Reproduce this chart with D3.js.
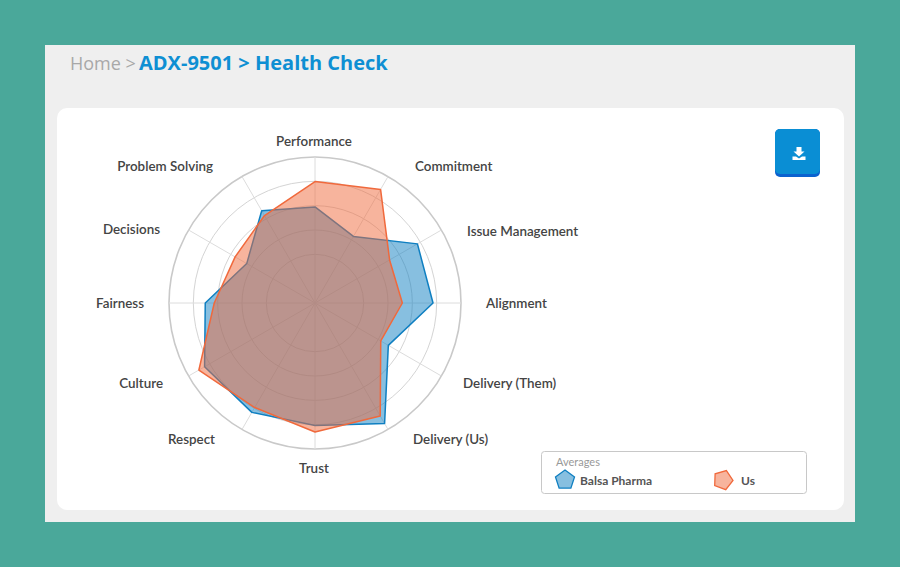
<!DOCTYPE html>
<html>
<head>
<meta charset="utf-8">
<script src="https://cdn.jsdelivr.net/npm/d3@7"></script>
<style>
  html, body { margin: 0; padding: 0; background: #4aa89a; }
  svg { display: block; }
  text { font-family: Lato, "Open Sans", sans-serif; }
</style>
</head>
<body>
<svg id="chart" width="900" height="567"></svg>
<script>
const categories = ['Performance', 'Commitment', 'Issue Management', 'Alignment', 'Delivery (Them)', 'Delivery (Us)',
    'Trust', 'Respect', 'Culture', 'Fairness', 'Decisions', 'Problem Solving'];
const balsaValues = [3.95, 3.16, 4.86, 4.85, 3.48, 5.72, 5.03, 5.19, 5.24, 4.51, 3.24, 4.38];
const usValues = [4.99, 5.39, 3.54, 3.59, 3.12, 5.36, 5.30, 4.96, 5.51, 4.14, 3.79, 4.15];
const ringValues = [2, 3, 4, 5, 6];
const seriesNames = ['Balsa Pharma', 'Us'];

const svg = d3.select('#chart');
const blue = '#0f7fc1';
const orange = '#f0693c';

// page panels
svg.append('rect').attr('x', 45).attr('y', 45).attr('width', 810).attr('height', 477).attr('fill', '#efefef');
svg.append('rect').attr('x', 57).attr('y', 108).attr('width', 787).attr('height', 402).attr('rx', 10).attr('fill', '#fff');

// breadcrumb
svg.append('text').attr('x', 70).attr('y', 70).attr('font-size', 18)
    .style('font-family', '"Open Sans", sans-serif')
    .attr('fill', '#a8a8a8').text('Home >');
svg.append('text').attr('x', 139).attr('y', 70).attr('font-size', 20).attr('font-weight', 700)
    .style('font-family', '"Open Sans", sans-serif')
    .attr('fill', '#0e8fd3').text('ADX-9501 > Health Check');

// radar
let cx = 315, cy = 303;
let r = d3.scaleLinear().domain([0, 6]).range([0, 146]);
let angle = d3.scalePoint().domain(d3.range(categories.length)).range([0, 2 * Math.PI * 11 / 12]);
let radar = svg.append('g').attr('transform', `translate(${cx},${cy})`);

radar.selectAll('circle.ring')
    .data(ringValues)
    .enter()
    .append('circle')
    .attr('class', 'ring')
    .attr('r', d => r(d))
    .attr('fill', 'none')
    .attr('stroke', d => d === 6 ? '#c9c9c9' : '#d4d4d4')
    .attr('stroke-width', d => d === 6 ? 1.6 : 1);

radar.selectAll('line.spoke')
    .data(categories)
    .enter()
    .append('line')
    .attr('class', 'spoke')
    .attr('x2', (d, i) => r(6) * Math.sin(angle(i)))
    .attr('y2', (d, i) => -r(6) * Math.cos(angle(i)))
    .attr('stroke', '#dcdcdc')
    .attr('stroke-width', 1);

let line = d3.lineRadial()
    .angle((d, i) => angle(i))
    .radius(d => r(d))
    .curve(d3.curveLinearClosed);

function drawSeries(values, color) {
    radar.append('path')
        .attr('d', line(values))
        .attr('fill', color)
        .attr('fill-opacity', 0.5)
        .attr('stroke', color)
        .attr('stroke-width', 1.5)
        .attr('stroke-linejoin', 'round');
}
drawSeries(balsaValues, blue);
drawSeries(usValues, orange);

// category labels sit off the spokes, pushed sideways like the original
let labelY = [-162, -137, -72, 0, 80, 136, 165, 136, 80, 0, -74, -137];
let labelNudge = [0, 0, 0, 0, -4, -2, 0, 0, 0, 0, -3, -2];
svg.selectAll('text.cat')
    .data(categories)
    .enter()
    .append('text')
    .attr('class', 'cat')
    .attr('x', (d, i) => {
        let s = Math.sin(angle(i));
        if (Math.abs(s) < 0.01) return cx - 1;
        return cx + 142 * s + (s > 0 ? 29 : -29) + labelNudge[i];
    })
    .attr('y', (d, i) => cy + labelY[i])
    .attr('dy', '0.35em')
    .attr('text-anchor', (d, i) => {
        let s = Math.sin(angle(i));
        return Math.abs(s) < 0.01 ? 'middle' : (s > 0 ? 'start' : 'end');
    })
    .attr('font-size', 13.4)
    .attr('font-weight', 600)
    .attr('fill', '#444')
    .text(d => d);

// download button
svg.append('rect').attr('x', 775).attr('y', 129).attr('width', 45).attr('height', 48).attr('rx', 5).attr('fill', '#0b62cf');
svg.append('rect').attr('x', 775).attr('y', 129).attr('width', 45).attr('height', 45).attr('rx', 5).attr('fill', '#0a8ed4');
svg.append('path')
    .attr('d', 'M796.5 147h5v4.5h3l-5.500 5-5.500-5h3z M792.500 156.500h3.500l3 2 3-2h3.500v3.500h-13z')
    .attr('fill', '#fff');

// legend
svg.append('rect').attr('x', 541.5).attr('y', 451.5).attr('width', 265).attr('height', 42).attr('rx', 3)
    .attr('fill', '#fff').attr('stroke', '#c8c8c8');
svg.append('text').attr('x', 556).attr('y', 466).attr('font-size', 11).attr('fill', '#999').text('Averages');

let pentagon = d3.lineRadial()
    .angle((d, i) => i * 2 * Math.PI / 5)
    .radius(10)
    .curve(d3.curveLinearClosed);

let legendX = [565, 723];
let legendColors = [blue, orange];
let legendRot = [0, 20];
seriesNames.forEach(function(name, i) {
    svg.append('path')
        .attr('d', pentagon(d3.range(5)))
        .attr('transform', `translate(${legendX[i]},${480}) rotate(${legendRot[i]})`)
        .attr('fill', legendColors[i])
        .attr('fill-opacity', 0.5)
        .attr('stroke', legendColors[i])
        .attr('stroke-width', 1.3);
    svg.append('text')
        .attr('x', legendX[i] + (i === 0 ? 15 : 18))
        .attr('y', 485)
        .attr('font-size', 12)
        .attr('font-weight', 700)
        .attr('fill', '#555')
        .text(name);
});
</script>
</body>
</html>
